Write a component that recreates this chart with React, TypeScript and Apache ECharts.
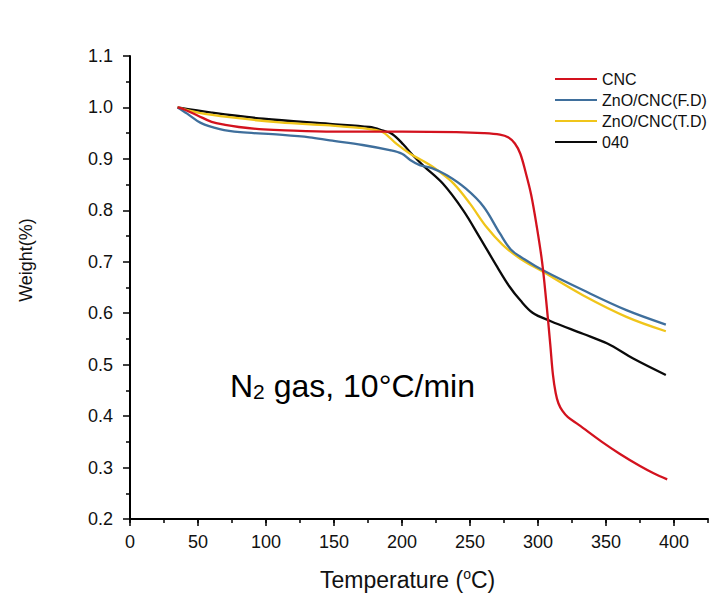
import React, { useEffect, useRef } from "react";
import * as echarts from "echarts";

// Thermogravimetric curves: [temperature °C, weight fraction]
const cnc: [number, number][] = [
  [35, 1.0], [40, 0.996], [50, 0.984], [60, 0.972], [70, 0.966], [80, 0.962],
  [95, 0.958], [110, 0.956], [150, 0.953], [200, 0.953], [240, 0.952], [260, 0.95],
  [272, 0.947], [278, 0.942], [283, 0.93], [287, 0.91], [291, 0.873], [295, 0.83],
  [299, 0.77], [303, 0.7], [306, 0.625], [309, 0.54], [311, 0.48], [313, 0.445],
  [315, 0.425], [318, 0.41], [322, 0.398], [330, 0.383], [347, 0.35], [360, 0.327],
  [375, 0.303], [385, 0.289], [395, 0.277],
];

const znoCncFD: [number, number][] = [
  [35, 1.0], [42, 0.988], [52, 0.97], [66, 0.958], [81, 0.952], [110, 0.947],
  [132, 0.942], [147, 0.936], [171, 0.927], [191, 0.917], [200, 0.91], [206, 0.898],
  [213, 0.888], [222, 0.882], [233, 0.868], [247, 0.842], [260, 0.807], [272, 0.755],
  [280, 0.724], [290, 0.705], [304, 0.683], [333, 0.645], [365, 0.606], [394, 0.578],
];

const znoCncTD: [number, number][] = [
  [35, 1.0], [50, 0.99], [73, 0.981], [110, 0.971], [147, 0.965], [176, 0.958],
  [186, 0.952], [196, 0.929], [206, 0.91], [220, 0.889], [226, 0.878], [238, 0.852],
  [250, 0.813], [262, 0.768], [274, 0.733], [287, 0.706], [304, 0.68], [333, 0.635],
  [365, 0.593], [394, 0.565],
];

const sample040: [number, number][] = [
  [35, 1.0], [60, 0.99], [98, 0.978], [147, 0.968], [176, 0.962], [186, 0.955],
  [193, 0.948], [201, 0.928], [208, 0.907], [216, 0.886], [230, 0.852], [245, 0.8],
  [257, 0.748], [270, 0.69], [279, 0.652], [287, 0.625], [296, 0.601], [309, 0.585],
  [333, 0.56], [351, 0.541], [370, 0.512], [394, 0.48],
];

const seriesNames = ["CNC", "ZnO/CNC(F.D)", "ZnO/CNC(T.D)", "040"];
const seriesColors = ["#d3121e", "#3f6f9c", "#f0c51a", "#0a0a0a"];
const temperatureLabels = [0, 50, 100, 150, 200, 250, 300, 350, 400];

const FONT = "'Liberation Sans', Arial, Helvetica, sans-serif";

export default function App() {
  const ref = useRef<HTMLDivElement>(null);

  useEffect(() => {
    if (!ref.current) return;
    const chart = echarts.init(ref.current, undefined, { renderer: "svg" });
    const datasets = [cnc, znoCncFD, znoCncTD, sample040];

    chart.setOption({
      animation: false,
      backgroundColor: "#ffffff",
      textStyle: { fontFamily: FONT },
      grid: { left: 130, right: 2, top: 56, bottom: 77, containLabel: false },
      legend: {
        orient: "vertical",
        left: 550,
        top: 66,
        icon: "rect",
        itemWidth: 42,
        itemHeight: 2,
        itemGap: 5,
        textStyle: { fontFamily: FONT, fontSize: 16, color: "#111" },
        data: seriesNames,
      },
      xAxis: [
        {
          type: "value",
          min: 0,
          max: 425,
          interval: 25,
          axisLine: { show: true, onZero: false, lineStyle: { color: "#000", width: 2 } },
          axisTick: { show: true, length: 4, lineStyle: { color: "#000", width: 1.5 } },
          axisLabel: { show: false },
          splitLine: { show: false },
        },
        {
          type: "value",
          position: "bottom",
          min: 0,
          max: 425,
          interval: 50,
          axisLine: { show: false },
          axisTick: {
            show: true,
            length: 7,
            customValues: temperatureLabels,
            lineStyle: { color: "#000", width: 1.5 },
          },
          axisLabel: {
            show: true,
            customValues: temperatureLabels,
            fontSize: 18,
            fontFamily: FONT,
            color: "#111",
            margin: 14,
          },
          splitLine: { show: false },
        },
      ],
      yAxis: {
        type: "value",
        min: 0.2,
        max: 1.1,
        interval: 0.1,
        axisLine: { show: true, onZero: false, lineStyle: { color: "#000", width: 2 } },
        axisTick: { show: true, length: 7, lineStyle: { color: "#000", width: 1.5 } },
        minorTick: { show: true, splitNumber: 2, length: 4, lineStyle: { color: "#000", width: 1.5 } },
        axisLabel: {
          fontSize: 18,
          fontFamily: FONT,
          color: "#111",
          margin: 17,
          formatter: (v: number) => v.toFixed(1),
        },
        splitLine: { show: false },
      },
      series: datasets.map((d, i) => ({
        name: seriesNames[i],
        type: "line",
        xAxisIndex: 0,
        data: d,
        symbol: "none",
        showSymbol: false,
        smooth: 0.35,
        color: seriesColors[i],
        lineStyle: { color: seriesColors[i], width: 2.3 },
        z: 10 - i,
      })),
      graphic: [
        {
          type: "text",
          left: 230,
          top: 370,
          style: {
            text: "{a|N}{s|2}{a| gas, 10°C/min}",
            rich: {
              a: { fontSize: 32, fontFamily: FONT, fill: "#000", verticalAlign: "bottom" },
              s: { fontSize: 21, fontFamily: FONT, fill: "#000", padding: [18, 0, 0, 0], verticalAlign: "bottom" },
            },
          },
        },
        {
          type: "text",
          x: 26,
          y: 260,
          rotation: Math.PI / 2,
          style: {
            text: "Weight(%)",
            fontSize: 18,
            fontFamily: FONT,
            fill: "#111",
            align: "center",
            verticalAlign: "middle",
          },
        },
        {
          type: "text",
          left: 320,
          top: 567,
          style: {
            text: "{a|Temperature (}{o|o}{a|C)}",
            rich: {
              a: { fontSize: 23, fontFamily: FONT, fill: "#111", verticalAlign: "bottom" },
              o: { fontSize: 14, fontFamily: FONT, fill: "#111", padding: [0, 0, 10, 0], verticalAlign: "bottom" },
            },
          },
        },
      ],
    });

    return () => chart.dispose();
  }, []);

  return (
    <div
      ref={ref}
      style={{ position: "fixed", left: 0, top: 0, width: 710, height: 596, background: "#fff" }}
    />
  );
}
